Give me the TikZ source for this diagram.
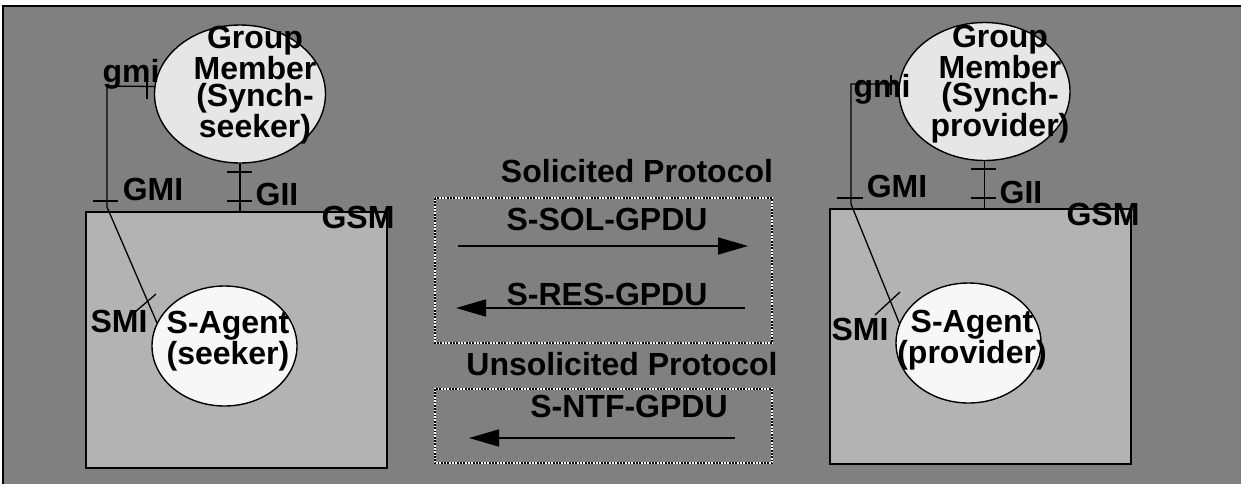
\documentclass[tikz,border=0pt]{standalone}
\usepackage{fontspec}
\setmainfont{Liberation Sans}
\usetikzlibrary{shapes.geometric,arrows.meta}
\definecolor{bggray}{HTML}{808080}
\definecolor{boxgray}{HTML}{B3B3B3}
\definecolor{gmfill}{HTML}{E6E6E6}
\definecolor{safill}{HTML}{F7F7F7}
\tikzset{
  lbl/.style={font=\fontsize{32}{28}\selectfont\bfseries, inner sep=0pt, anchor=base},
  multi/.style={font=\fontsize{32}{27.5}\selectfont\bfseries, inner sep=0pt, align=center},
  smulti/.style={font=\fontsize{32}{23}\selectfont\bfseries, inner sep=0pt, align=center},
  gsmbox/.style={draw=black, line width=2pt, fill=boxgray, rectangle, inner sep=0pt, minimum width=301pt},
  gmell/.style={draw=black, line width=1.4pt, fill=gmfill, ellipse, inner sep=0pt, minimum width=171pt, minimum height=138pt},
  saell/.style={draw=black, line width=1.4pt, fill=safill, ellipse, inner sep=0pt, minimum width=145pt, minimum height=120pt},
  conn/.style={draw=black, line width=1.3pt},
  tick/.style={draw=black, line width=1.6pt},
  flow/.style={draw=black, line width=1.6pt, -{Triangle[length=30pt,width=17pt]}},
  dotbox/.style={draw=white, line width=2.4pt},
  dotover/.style={draw=black, line width=2.4pt, dash pattern=on 1.6pt off 1.6pt},
}
\begin{document}
\begin{tikzpicture}[x=1pt,y=-1pt]
\useasboundingbox (0,0) rectangle (1241,483);
\fill[white] (0,0) rectangle (1241,483);
% outer frame
\draw[line width=2pt, fill=bggray] (3,6) rectangle (1260,500);

% GSM boxes
\node[gsmbox, minimum height=256pt] (gsmL) at (236.5,340) {};
\node[gsmbox, minimum height=255pt] (gsmR) at (980.5,336.5) {};

% ellipses
\node[gmell] (gmL) at (240,94) {};
\node[gmell] (gmR) at (984.5,91.5) {};
\node[saell] (saL) at (224.5,346) {};
\node[saell] (saR) at (968.5,343) {};

% ---- left side connectors
\coordinate (giiL) at (gmL.south |- gsmL.north);
\draw[conn] (gmL.south) -- (giiL);
\draw[tick] (227,172) -- (252,172);
\draw[tick] (227,201) -- (252,201);
\coordinate (gmiTopL) at (107,86);
\coordinate (gmiBendL) at (107,207);
\draw[conn] (gmL.175) -- (gmiTopL) -- (gmiBendL) -- (saL.161);
\draw[tick] (147,80) -- (147,99);
\draw[tick] (93,201) -- (118,201);
\draw[conn] (135,312) -- (156,294);

% ---- right side connectors
\coordinate (giiR) at (gmR.south |- gsmR.north);
\draw[conn] (gmR.south) -- (giiR);
\draw[tick] (971,169) -- (996,169);
\draw[tick] (971,198) -- (996,198);
\coordinate (gmiTopR) at (851,84);
\coordinate (gmiBendR) at (851,204);
\draw[conn] (gmR.175) -- (gmiTopR) -- (gmiBendR) -- (saR.164);
\draw[tick] (891,75) -- (891,95);
\draw[tick] (837,198) -- (863,198);
\draw[conn] (875,315) -- (900,292);

% ---- labels left
\node[multi] (gmLtxt) at (255,85) {Group\\Member\\(Synch-\\seeker)};
\node[smulti] (saLtxt) at (228,341) {S-Agent\\(seeker)};
\node[lbl] (gmiL) at (131,82) {gmi};
\node[lbl] (GMIL) at (153,200) {GMI};
\node[lbl] (GIIL) at (277,205) {GII};
\node[lbl] (GSML) at (358,228) {GSM};
\node[lbl] (SMIL) at (119,332) {SMI};

% ---- labels right
\node[multi] (gmRtxt) at (1000,84) {Group\\Member\\(Synch-\\provider)};
\node[smulti] (saRtxt) at (972,340) {S-Agent\\(provider)};
\node[lbl] (gmiR) at (882,97) {gmi};
\node[lbl] (GMIR) at (897,197) {GMI};
\node[lbl] (GIIR) at (1021,203) {GII};
\node[lbl] (GSMR) at (1103,225) {GSM};
\node[lbl] (SMIR) at (860,340) {SMI};

% ---- middle protocol boxes
\draw[dotbox] (435,198) rectangle (772,343);
\draw[dotover] (435,198) rectangle (772,343);
\draw[dotbox] (435,389) rectangle (772,463);
\draw[dotover] (435,389) rectangle (772,463);

\node[lbl] (solp) at (637,182) {Solicited Protocol};
\node[lbl] (sol) at (607,230) {S-SOL-GPDU};
\node[lbl] (res) at (607,305) {S-RES-GPDU};
\node[lbl] (unsp) at (622,375) {Unsolicited Protocol};
\node[lbl] (ntf) at (629,417) {S-NTF-GPDU};

\coordinate (a1s) at (458,246);
\coordinate (a1e) at (748,246);
\coordinate (a2s) at (745,308);
\coordinate (a2e) at (456,308);
\coordinate (a3s) at (735,438);
\coordinate (a3e) at (469,438);
\draw[flow] (a1s) -- (a1e);
\draw[flow] (a2s) -- (a2e);
\draw[flow] (a3s) -- (a3e);
\end{tikzpicture}
\end{document}
